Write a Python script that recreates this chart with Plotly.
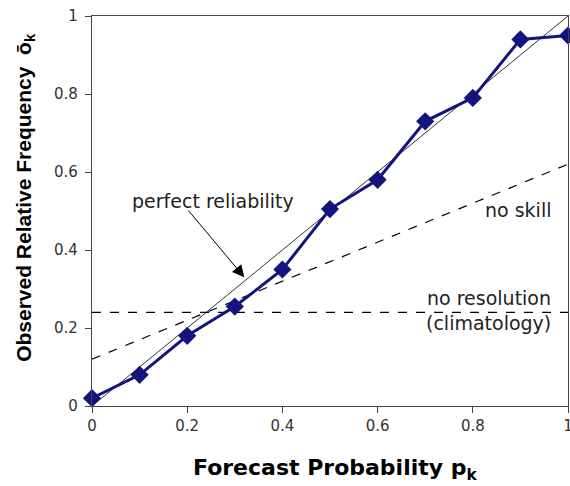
import plotly.graph_objects as go

forecast_prob = [0.0, 0.1, 0.2, 0.3, 0.4, 0.5, 0.6, 0.7, 0.8, 0.9, 1.0]
observed_freq = [0.02, 0.08, 0.18, 0.255, 0.35, 0.505, 0.58, 0.73, 0.79, 0.94, 0.95]
perfect_x = [0, 1]
perfect_y = [0, 1]
noskill_x = [0, 1]
noskill_y = [0.12, 0.62]
climatology = 0.24
tick_vals = [0, 0.2, 0.4, 0.6, 0.8, 1]
tick_text = ["0", "0.2", "0.4", "0.6", "0.8", "1"]

FAM = "DejaVu Sans, Verdana, sans-serif"

fig = go.Figure()
fig.add_trace(go.Scatter(x=perfect_x, y=perfect_y, mode="lines",
                         line=dict(color="#333333", width=1), showlegend=False))
fig.add_trace(go.Scatter(x=noskill_x, y=noskill_y, mode="lines",
                         line=dict(color="black", width=1.2, dash="dash"), showlegend=False))
fig.add_trace(go.Scatter(x=[0, 1], y=[climatology, climatology], mode="lines",
                         line=dict(color="black", width=1.2, dash="dash"), showlegend=False))
fig.add_trace(go.Scatter(x=forecast_prob, y=observed_freq, mode="lines+markers",
                         line=dict(color="#14147e", width=3),
                         marker=dict(symbol="diamond", size=14, color="#14147e"),
                         showlegend=False, cliponaxis=False))

font = dict(family=FAM, size=19, color="#222222")
fig.add_annotation(x=0.254, y=0.525, text="perfect reliability", showarrow=False, font=font)
fig.add_annotation(x=0.32, y=0.33, ax=0.2, ay=0.505, axref="x", ayref="y",
                   text="", showarrow=True, arrowhead=2, arrowsize=2.4, arrowwidth=1,
                   arrowcolor="black")
fig.add_annotation(x=0.968, y=0.503, text="no skill", showarrow=False, font=font,
                   xanchor="right")
fig.add_annotation(x=0.968, y=0.277, text="no resolution", showarrow=False, font=font,
                   xanchor="right")
fig.add_annotation(x=0.968, y=0.213, text="(climatology)", showarrow=False, font=font,
                   xanchor="right")

fig.add_annotation(xref="paper", yref="paper", x=0.512, y=-0.162,
                   xanchor="center", yanchor="middle",
                   text="<b>Forecast Probability p<sub>k</sub></b>", showarrow=False,
                   font=dict(family=FAM, size=22, color="black"))
fig.add_annotation(xref="paper", yref="paper", x=-0.141, y=0.536, textangle=-90,
                   xanchor="center", yanchor="middle",
                   text="<b>Observed Relative Frequency  ō<sub>k</sub></b>", showarrow=False,
                   font=dict(family="Liberation Sans, Arial", size=21, color="black"))

axis_common = dict(showgrid=False, zeroline=False, showline=True, linecolor="#444444",
                   linewidth=1.2, mirror=True, ticks="outside", ticklen=6,
                   tickcolor="#444444", tickvals=tick_vals, ticktext=tick_text,
                   ticklabeloverflow="allow",
                   tickfont=dict(family=FAM, size=15, color="#333333"))
fig.update_xaxes(range=[0, 1], ticklabelstandoff=0, **axis_common)
fig.update_yaxes(range=[0, 1], ticklabelstandoff=4, **axis_common)
fig.update_layout(width=576, height=486, margin=dict(l=92, r=3, t=16, b=80),
                  plot_bgcolor="white", paper_bgcolor="white")

post = ("document.documentElement.style.overflow='hidden';"
        "document.body.style.margin='0px';"
        "document.body.style.overflow='hidden';")
fig.write_html("out.html", post_script=post, config={"displayModeBar": False})
